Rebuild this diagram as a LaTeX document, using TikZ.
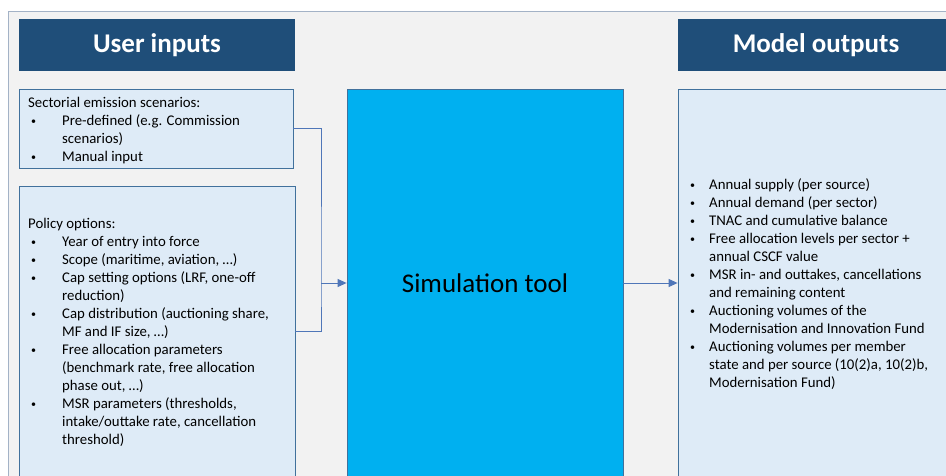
\documentclass[tikz,border=0pt]{standalone}
\usepackage{fontspec}
\setmainfont{Carlito}
\usetikzlibrary{arrows.meta}
\definecolor{bgcol}{HTML}{F2F2F2}
\definecolor{framecol}{HTML}{A3B2C6}
\definecolor{hdr}{HTML}{1F4E79}
\definecolor{boxfill}{HTML}{DEEBF7}
\definecolor{boxline}{HTML}{41719C}
\definecolor{simfill}{HTML}{00B0F0}
\definecolor{conncol}{HTML}{4F76B8}
\newcommand{\smbul}{\raisebox{1pt}{\fontsize{10}{10}\selectfont\textbullet}}
\newcommand{\lb}{\makebox[34pt][l]{\hspace{3pt}\smbul}}
\newcommand{\rb}{\makebox[20pt][l]{\hspace{1pt}\smbul}}
\tikzset{
  frame/.style={draw=framecol, fill=bgcol, line width=0.9pt},
  header/.style={fill=hdr, text=white, inner sep=0pt,
    font=\bfseries\fontsize{27}{30}\selectfont},
  inbox/.style={draw=boxline, fill=boxfill, line width=0.8pt, inner sep=0pt},
  simbox/.style={draw=boxline, fill=simfill, line width=0.8pt, inner sep=0pt,
    font=\fontsize{27}{30}\selectfont},
  listtext/.style={anchor=north west, inner sep=0pt, align=left,
    font=\fontsize{14.8}{18}\selectfont},
  conn/.style={draw=conncol, line width=1pt},
  arr/.style={conn, -{Triangle[length=9pt,width=8pt]}}
}
\begin{document}
\begin{tikzpicture}[x=1pt,y=-1pt]
\useasboundingbox (0,0) rectangle (946,476);
\clip (0,0) rectangle (946,476);
\fill[white] (0,0) rectangle (946,476);
\path[frame] (8,11) rectangle (965,495);

\node[header, minimum width=276pt, minimum height=52pt] (uin) at (157,45) {User inputs};
\node[header, minimum width=276pt, minimum height=52pt] (mout) at (816,45) {Model outputs};

\node[inbox, minimum width=274pt, minimum height=79pt] (b1) at (156,128.5) {};
\node[inbox, minimum width=276pt, minimum height=291pt] (b2) at (157,331.5) {};
\node[simbox, minimum width=276pt, minimum height=388pt] (sim) at (485,283) {Simulation tool};
\node[inbox, minimum width=290pt, minimum height=388pt] (out) at (823,283) {};

\node[listtext] (t1) at (28,95) {\begin{tabular}{@{}l@{}l@{}}
\multicolumn{2}{@{}l@{}}{Sectorial emission scenarios:}\\
\lb & Pre-defined (e.g. Commission\\
 & scenarios)\\
\lb & Manual input
\end{tabular}};

\node[listtext] (t2) at (28,216) {\begin{tabular}{@{}l@{}l@{}}
\multicolumn{2}{@{}l@{}}{Policy options:}\\
\lb & Year of entry into force\\
\lb & Scope (maritime, aviation, …)\\
\lb & Cap setting options (LRF, one-off\\
 & reduction)\\
\lb & Cap distribution (auctioning share,\\
 & MF and IF size, …)\\
\lb & Free allocation parameters\\
 & (benchmark rate, free allocation\\
 & phase out, …)\\
\lb & MSR parameters (thresholds,\\
 & intake/outtake rate, cancellation\\
 & threshold)
\end{tabular}};

\node[listtext] (t3) at (689,176.5) {\begin{tabular}{@{}l@{}l@{}}
\rb & Annual supply (per source)\\
\rb & Annual demand (per sector)\\
\rb & TNAC and cumulative balance\\
\rb & Free allocation levels per sector +\\
 & annual CSCF value\\
\rb & MSR in- and outtakes, cancellations\\
 & and remaining content\\
\rb & Auctioning volumes of the\\
 & Modernisation and Innovation Fund\\
\rb & Auctioning volumes per member\\
 & state and per source (10(2)a, 10(2)b,\\
 & Modernisation Fund)
\end{tabular}};

\coordinate (j) at (321,283);
\draw[conn] (b1.east) -| (j) |- (b2.east);
\draw[arr] (j) -- (sim.west);
\draw[arr] (sim.east) -- (out.west);
\end{tikzpicture}
\end{document}
